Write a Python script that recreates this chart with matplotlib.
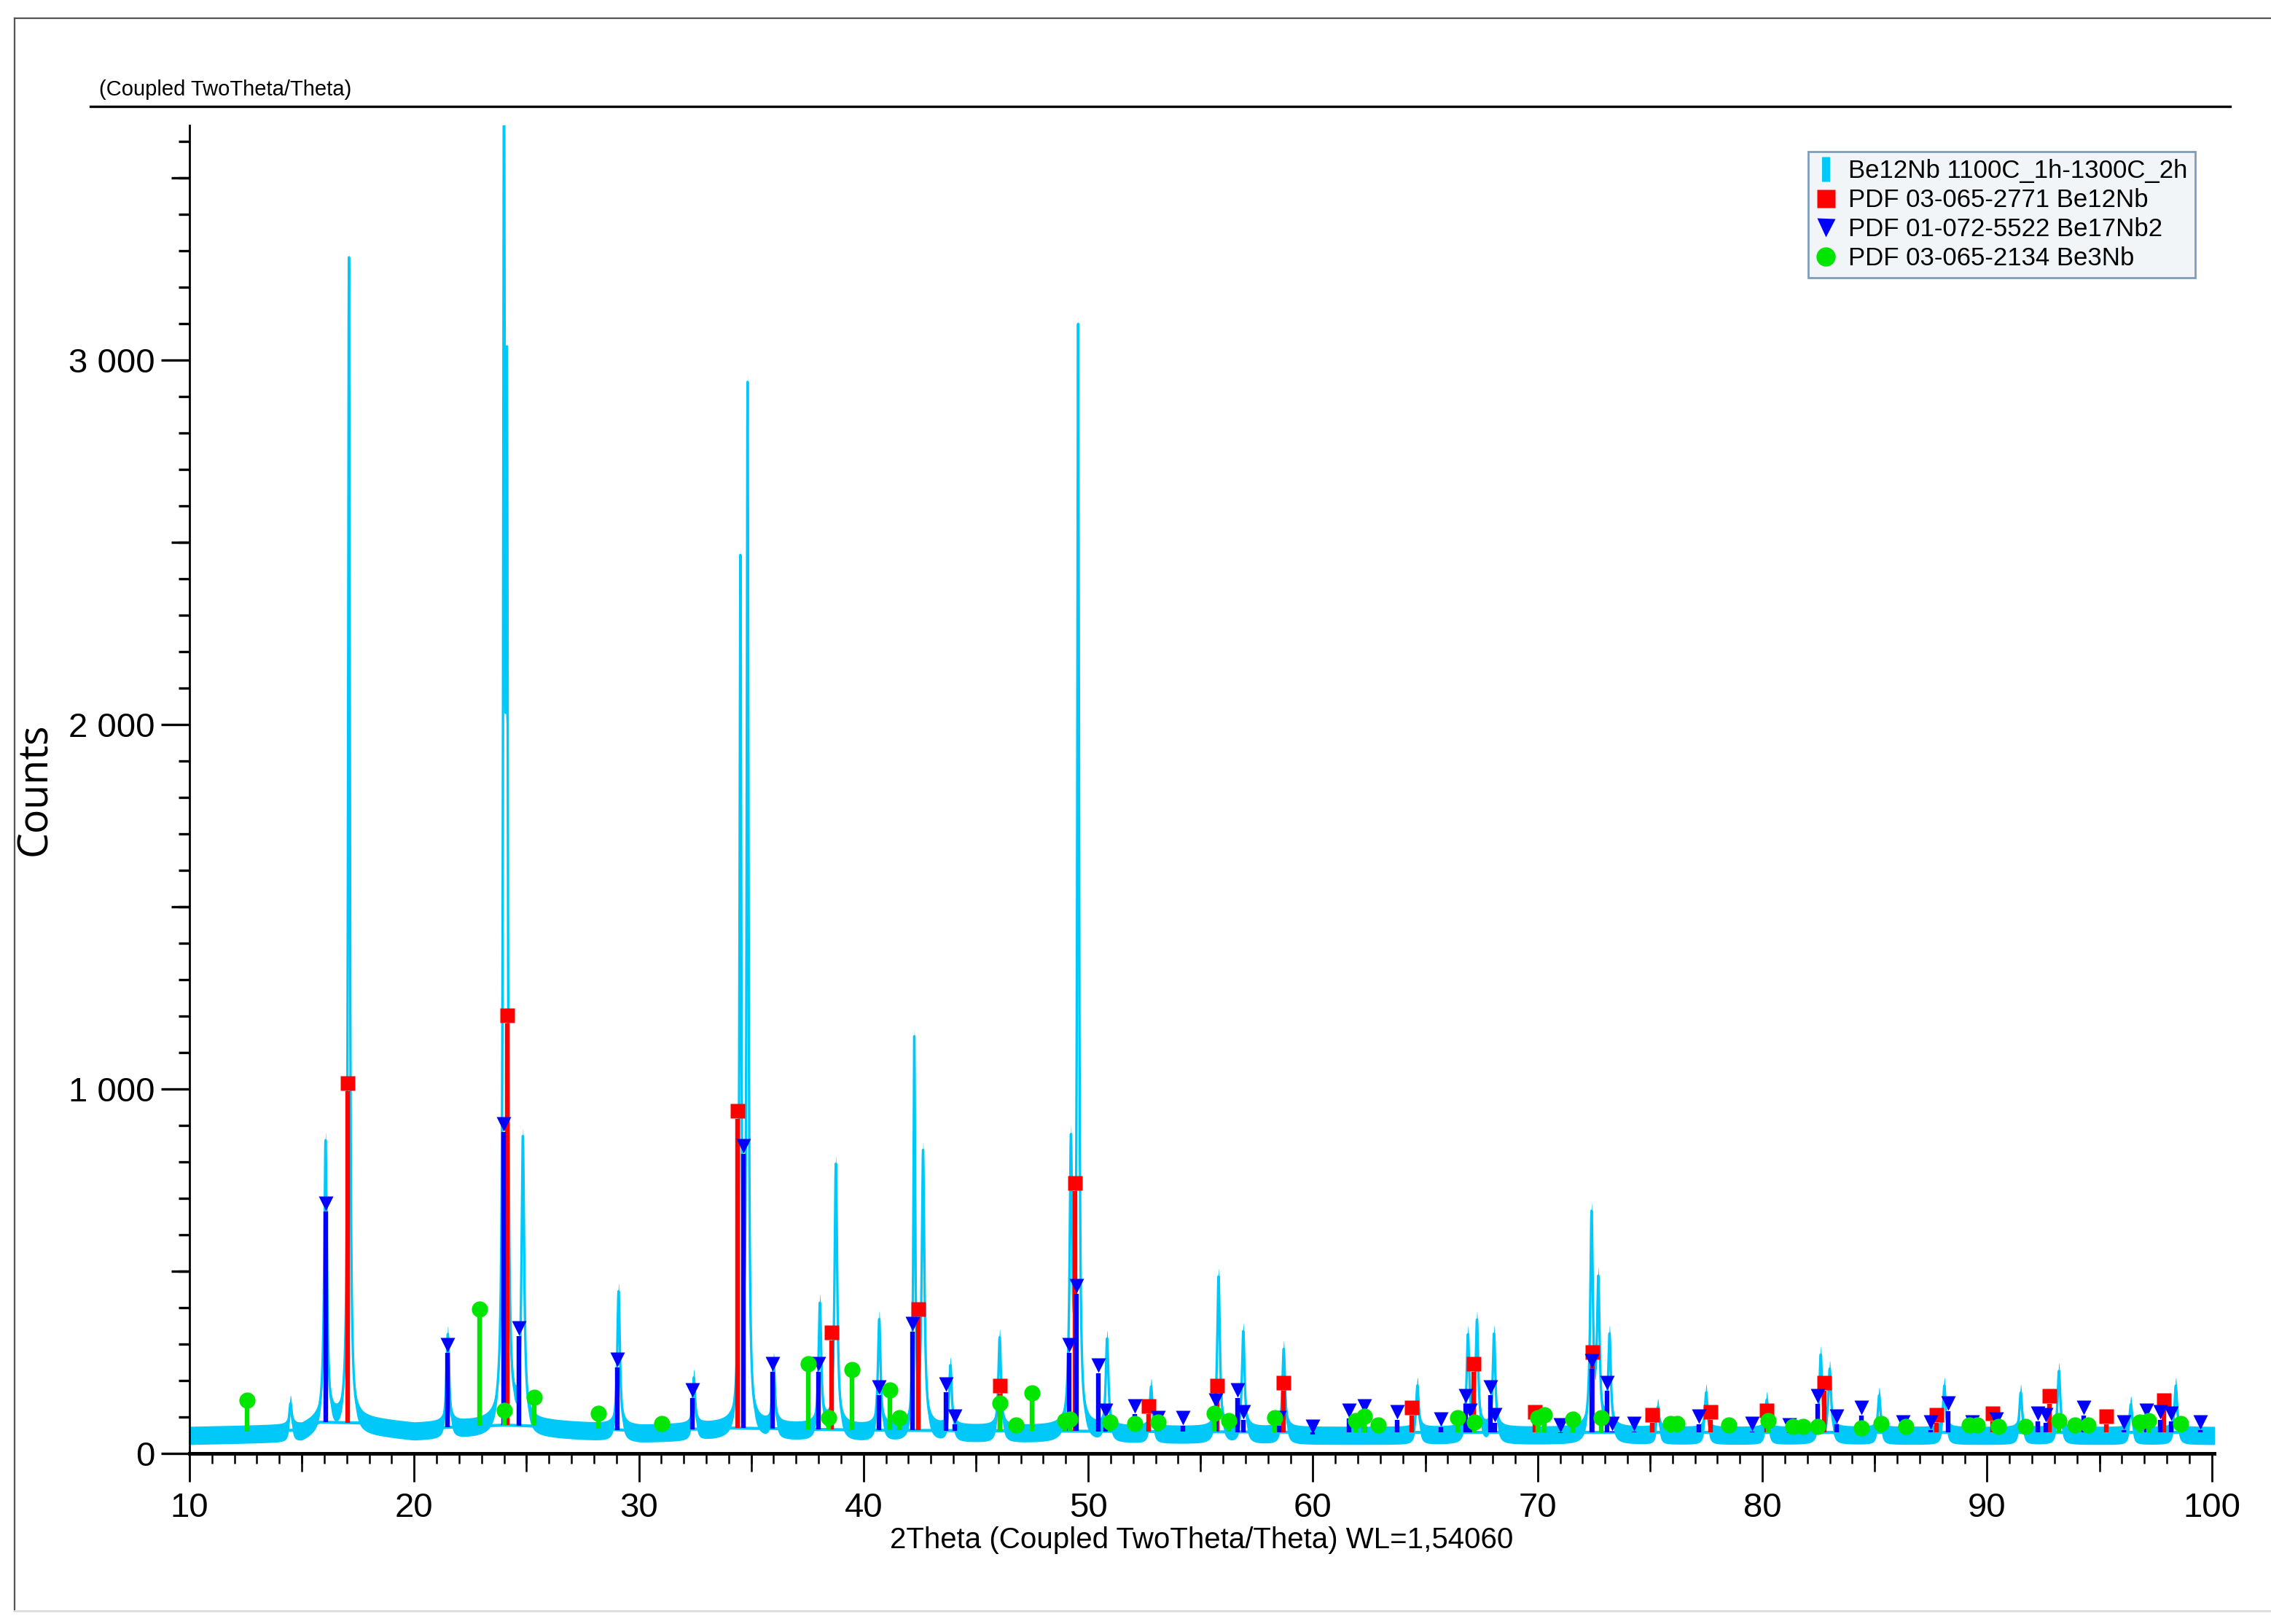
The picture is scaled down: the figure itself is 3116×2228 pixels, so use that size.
import numpy as np
import matplotlib
matplotlib.use('Agg')
import matplotlib.pyplot as plt
from matplotlib.ticker import MultipleLocator, FuncFormatter
from matplotlib.lines import Line2D

# measured pattern: peak positions (2theta) and peak counts
peak_pos = [14.5, 16.06, 17.1, 21.5, 24.0, 24.13, 24.84, 29.1, 32.45, 34.52, 34.84,
            36.0, 38.06, 38.77, 40.7, 42.26, 42.65, 43.87, 46.06, 49.23, 49.55,
            50.84, 52.8, 55.8, 56.9, 58.7, 64.65, 66.9, 67.3, 68.06, 72.4, 72.7,
            73.2, 75.35, 77.5, 80.2, 82.6, 83.0, 85.2, 88.1, 91.5, 93.2, 96.4, 98.4]
peak_cnt = [135, 853, 3278, 325, 3571, 2655, 850, 444, 206, 2409, 2893,
            246, 405, 790, 365, 1119, 817, 238, 317, 817, 3063,
            310, 182, 484, 333, 286, 186, 317, 357, 325, 643, 452,
            317, 127, 167, 147, 266, 226, 159, 186, 167, 226, 135, 186]

# background anchors
bg_pos = [10, 15, 15.8, 17.6, 20, 24, 26, 30, 34, 40, 50, 60, 80, 100.5]
bg_cnt = [52, 58, 80, 78, 62, 72, 68, 56, 64, 58, 55, 52, 52, 52]

# PDF 03-065-2771 Be12Nb
red_pos = [17.03, 24.13, 34.39, 38.58, 42.45, 46.06, 49.42, 52.7, 55.74, 58.7, 64.4,
           67.16, 69.87, 72.45, 75.1, 77.68, 80.2, 82.77, 87.74, 90.26, 92.77, 95.3, 97.87]
red_cnt = [1016, 1202, 940, 333, 397, 186, 742, 131, 186, 194, 127,
           246, 115, 278, 107, 115, 119, 194, 107, 111, 159, 103, 147]

# PDF 01-072-5522 Be17Nb2
blue_pos = [16.06, 21.48, 23.99, 24.65, 29.03, 32.39, 34.65, 35.94, 38.0, 40.7, 42.19,
            43.68, 44.06, 49.16, 49.48, 50.45, 50.77, 52.06, 53.1, 54.2, 55.68, 56.65,
            56.9, 58.5, 60.0, 61.6, 62.3, 63.74, 65.7, 66.8, 67.0, 67.9, 68.1, 71.0,
            72.4, 73.1, 73.3, 74.3, 77.16, 79.55, 81.2, 82.45, 83.3, 84.4, 86.26, 87.5,
            88.26, 89.35, 90.4, 92.26, 92.6, 94.3, 96.1, 97.1, 97.7, 98.2, 99.5]
blue_cnt = [686, 298, 905, 345, 258, 175, 845, 246, 246, 182, 357,
            190, 103, 298, 460, 242, 119, 131, 99, 99, 147, 175,
            115, 99, 75, 119, 131, 115, 95, 159, 119, 182, 107, 79,
            254, 194, 83, 83, 103, 83, 79, 159, 103, 127, 87, 87,
            139, 87, 95, 111, 107, 127, 87, 119, 115, 111, 87]

# PDF 03-065-2134 Be3Nb
green_pos = [12.58, 22.9, 24.0, 25.35, 28.2, 31.03, 37.55, 38.45, 39.48, 41.16, 41.6,
             46.06, 46.77, 47.5, 48.97, 49.2, 50.97, 52.06, 53.1, 55.6, 56.26, 58.3,
             61.9, 62.3, 62.9, 66.45, 67.2, 70.0, 70.3, 71.55, 72.84, 75.9, 76.2, 78.5,
             80.26, 81.35, 81.8, 82.45, 84.4, 85.3, 86.4, 89.2, 89.55, 90.5, 91.7, 93.2,
             93.9, 94.5, 96.8, 97.2, 98.6]
green_cnt = [147, 397, 119, 155, 111, 83, 246, 99, 230, 175, 99,
             139, 79, 167, 91, 95, 87, 83, 87, 111, 91, 99,
             91, 103, 79, 99, 87, 99, 107, 95, 99, 83, 83, 79,
             91, 75, 75, 75, 71, 83, 75, 79, 79, 75, 75, 91,
             79, 79, 87, 91, 83]

CYAN = '#00c8f8'

fig = plt.figure(figsize=(15.58, 11.14), dpi=200)
ax = fig.add_axes([0.0834, 0.105, 0.8915, 0.8178])

tt = np.arange(10.0, 100.2, 0.005)
bg = np.interp(tt, bg_pos, bg_cnt)
prof = bg.copy()
for p, c in zip(peak_pos, peak_cnt):
    h = c - np.interp(p, bg_pos, bg_cnt)
    w = 0.045 if c > 1000 else 0.07
    prof += h / (1 + ((tt - p) / w) ** 2)

ax.fill_between(tt, prof - 28, prof + 22, color=CYAN, lw=0, zorder=1)
ax.plot(tt, prof, color=CYAN, lw=1.2, zorder=2)
ax.plot(tt, bg + 6, color=CYAN, lw=1.5, zorder=2)

def sticks(pos, cnt, color, marker, ms):
    base = np.interp(pos, bg_pos, bg_cnt) + 6
    top = np.array(cnt) - 22
    ax.vlines(pos, base, top, color=color, lw=2.3, zorder=3)
    ax.plot(pos, cnt, ls='none', marker=marker, color=color, ms=ms, mec='none', zorder=4)

sticks(red_pos, red_cnt, '#ff0000', 's', 7.5)
sticks(blue_pos, blue_cnt, '#0000ff', 'v', 7.5)
sticks(green_pos, green_cnt, '#00e600', 'o', 8)

ax.set_xlim(10, 100.1)
ax.set_ylim(0, 3644)
for s in ['top', 'right']:
    ax.spines[s].set_visible(False)
ax.spines['left'].set_linewidth(1.0)
ax.spines['bottom'].set_linewidth(1.8)

ax.xaxis.set_major_locator(MultipleLocator(10))
ax.xaxis.set_minor_locator(MultipleLocator(1))
ax.yaxis.set_major_locator(MultipleLocator(1000))
ax.yaxis.set_minor_locator(MultipleLocator(100))
ax.yaxis.set_major_formatter(FuncFormatter(lambda v, p: f'{int(v):,}'.replace(',', ' ')))
ax.tick_params(axis='x', which='major', length=14, width=1.0, pad=5, labelsize=17)
ax.tick_params(axis='x', which='minor', length=5, width=0.9)
ax.tick_params(axis='y', which='major', length=14, width=1.2, pad=3, labelsize=17)
ax.tick_params(axis='y', which='minor', length=5.4, width=1.2)
xl = ax.get_xticklabels()
for lab in xl:
    lab.set_family('Liberation Sans')
xl[0].set_horizontalalignment('left')
xl[-1].set_horizontalalignment('right')
for lab in ax.get_yticklabels():
    lab.set_family('Liberation Sans')

sec = ax.secondary_xaxis('bottom')
sec.set_xticks([15, 25, 35, 45, 55, 65, 75, 85, 95])
sec.tick_params(length=9, width=0.9, labelbottom=False)
sec.spines['bottom'].set_visible(False)
secy = ax.secondary_yaxis('left')
secy.set_yticks([500, 1500, 2500, 3500])
secy.tick_params(length=9, width=1.2, labelleft=False)
secy.spines['left'].set_visible(False)

ax.set_xlabel('2Theta (Coupled TwoTheta/Theta) WL=1,54060', family='Liberation Sans',
              fontsize=14.5, labelpad=1)
ax.set_ylabel('Counts', family='Open Sans', fontsize=20, labelpad=6)

fig.text(0.0437, 0.941, '(Coupled TwoTheta/Theta)', family='Liberation Sans', fontsize=10.5)
fig.add_artist(Line2D([0.0398, 0.982], [0.9345, 0.9345], color='black', lw=1.2))
fig.add_artist(Line2D([0.0064, 0.0064], [0.008, 0.989], color='#555555', lw=0.8))
fig.add_artist(Line2D([0.0064, 1.0], [0.989, 0.989], color='#555555', lw=0.8))
fig.add_artist(Line2D([0.0064, 1.0], [0.008, 0.008], color='#dddddd', lw=1.0))

handles = [
    Line2D([], [], ls='none', marker='|', color=CYAN, ms=12, mew=4),
    Line2D([], [], ls='none', marker='s', color='#ff0000', ms=9, mec='none'),
    Line2D([], [], ls='none', marker='v', color='#0000ff', ms=9, mec='none'),
    Line2D([], [], ls='none', marker='o', color='#00e600', ms=9.5, mec='none'),
]
labels = ['Be12Nb 1100C_1h-1300C_2h', 'PDF 03-065-2771 Be12Nb',
          'PDF 01-072-5522 Be17Nb2', 'PDF 03-065-2134 Be3Nb']
leg = ax.legend(handles, labels, loc='upper right', bbox_to_anchor=(0.997, 0.99),
                prop={'family': 'Liberation Sans', 'size': 12.5}, handlelength=0.8,
                handletextpad=0.5, labelspacing=0.2, borderpad=0.3, fancybox=False,
                framealpha=1)
leg.get_frame().set_facecolor('#f2f5f8')
leg.get_frame().set_edgecolor('#7f9db9')

fig.savefig('out.png', dpi=200)
